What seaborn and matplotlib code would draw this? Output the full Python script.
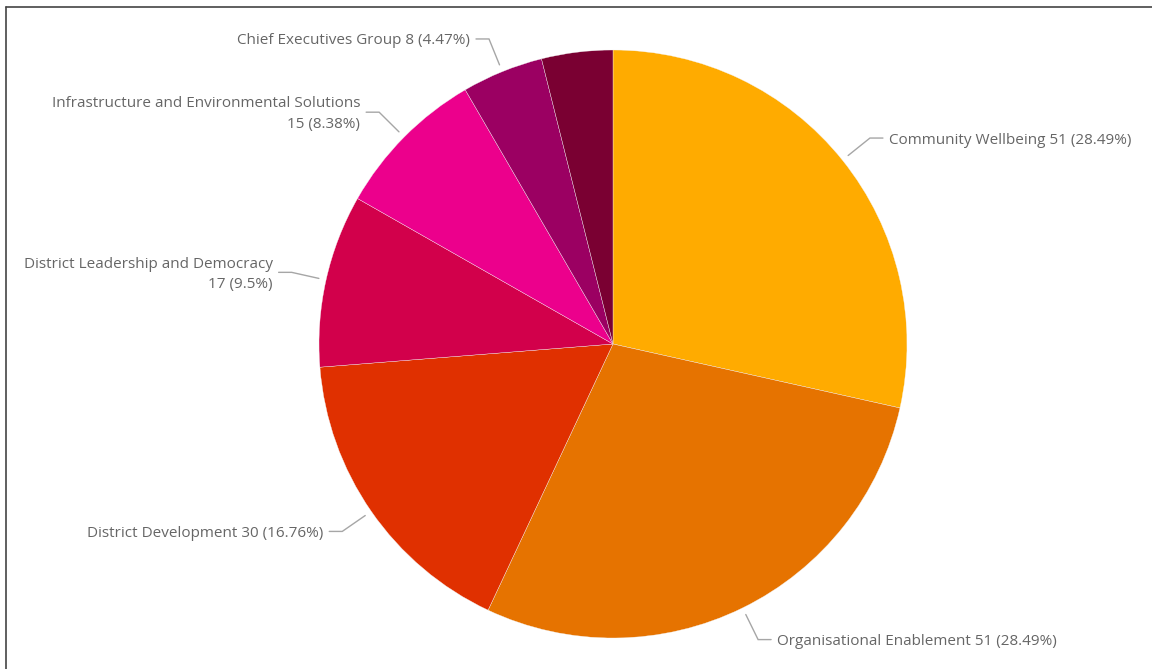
import numpy as np
import matplotlib
matplotlib.use("Agg")
import matplotlib.pyplot as plt
from matplotlib.lines import Line2D
import seaborn as sns

# Headcount by group
groups = [
    "Community Wellbeing",
    "Organisational Enablement",
    "District Development",
    "District Leadership and Democracy",
    "Infrastructure and Environmental Solutions",
    "Chief Executives Group",
    "Other",
]
counts = [51, 51, 30, 17, 15, 8, 7]
colors = ["#FFAB00", "#E67300", "#E03000", "#D2004B", "#EC008C", "#9B0062", "#7A0032"]
# groups whose label breaks onto two lines, and groups left unlabelled
wrapped = {"District Leadership and Democracy", "Infrastructure and Environmental Solutions"}
unlabelled = {"Other"}

sns.set_theme(style="white")
plt.rcParams["font.family"] = ["Open Sans", "DejaVu Sans"]

W, H = 1152, 669
fig = plt.figure(figsize=(W / 100, H / 100), dpi=100)
ax = fig.add_axes([0, 0, 1, 1])

cx, cy, r = 613, H - 344, 294
palette = sns.color_palette(colors)
wedges, _ = ax.pie(
    counts,
    colors=palette,
    startangle=90,
    counterclock=False,
    center=(cx, cy),
    radius=r,
    frame=True,
    wedgeprops=dict(linewidth=0.25, edgecolor="#f4f4f4"),
)
ax.set_xlim(0, W)
ax.set_ylim(0, H)
ax.set_aspect("equal")
ax.axis("off")

total = sum(counts)
text_color = "#666666"
line_color = "#a6a6a6"

for w, name, val in zip(wedges, groups, counts):
    if name in unlabelled:
        continue
    pct = np.round(100 * val / total, 2)
    pct_s = f"{pct:.2f}".rstrip("0").rstrip(".")
    if name in wrapped:
        label = f"{name}\n{val} ({pct_s}%)"
    else:
        label = f"{name} {val} ({pct_s}%)"
    mid = np.deg2rad((w.theta1 + w.theta2) / 2)
    x0, y0 = cx + 1.025 * r * np.cos(mid), cy + 1.025 * r * np.sin(mid)
    x1, y1 = cx + 1.12 * r * np.cos(mid), cy + 1.12 * r * np.sin(mid)
    side = 1 if np.cos(mid) >= 0 else -1
    x2 = x1 + side * 13
    ax.plot([x0, x1, x2], [y0, y1, y1], color=line_color, lw=1.0,
            solid_joinstyle="miter", zorder=3)
    ax.text(x2 + side * 6, y1 - 2, label, ha="left" if side > 0 else "right",
            va="center", color=text_color, fontsize=11,
            multialignment="right" if side < 0 else "left", linespacing=1.5)

# panel border (top and left edges)
fig.add_artist(Line2D([6 / W, 6 / W], [0, 1 - 7 / H], transform=fig.transFigure,
                      color="#444444", lw=1.2))
fig.add_artist(Line2D([6 / W, 1], [1 - 7 / H, 1 - 7 / H], transform=fig.transFigure,
                      color="#444444", lw=1.2))

fig.savefig("out.png", dpi=100, facecolor="white")
